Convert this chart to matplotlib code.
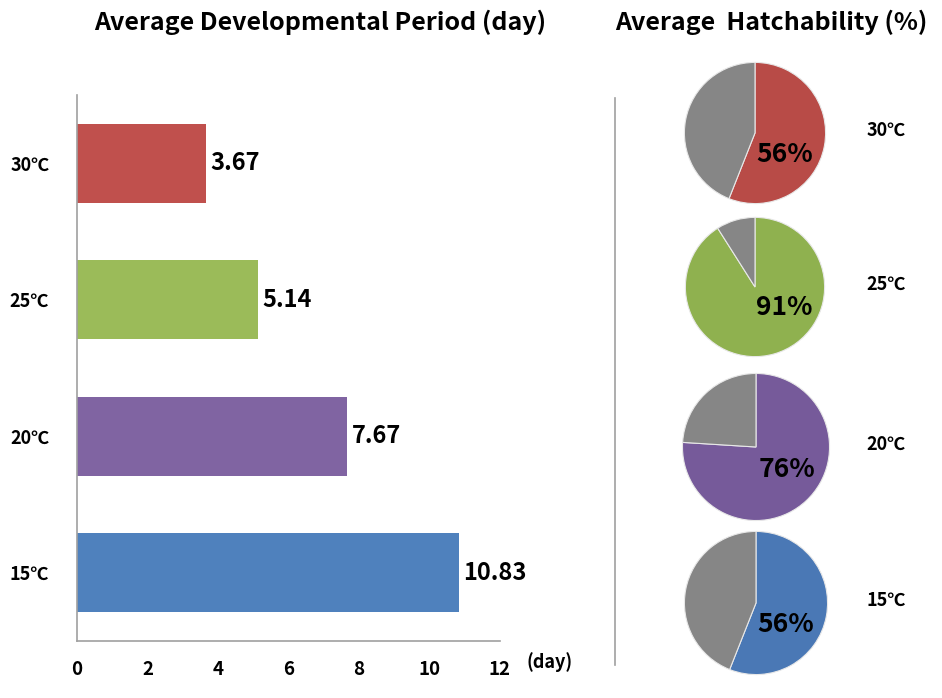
import matplotlib

matplotlib.use("Agg")
import matplotlib.pyplot as plt
from matplotlib.lines import Line2D

plt.rcParams["font.family"] = ["Noto Sans CJK KR", "DejaVu Sans"]
plt.rcParams["font.weight"] = "bold"

# data (bottom to top in the bar chart)
temps = ["15℃", "20℃", "25℃", "30℃"]
dev_days = [10.83, 7.67, 5.14, 3.67]
hatch_pct = [56, 76, 91, 56]
bar_colors = ["#4F81BD", "#8064A2", "#9BBB59", "#C0504D"]
pie_colors = ["#4A78B5", "#765A9A", "#8FB14F", "#B84B47"]
x_ticks = [0, 2, 4, 6, 8, 10, 12]

W, H = 942, 698
fig = plt.figure(figsize=(W / 100, H / 100), dpi=100)


def fx(px):
    return px / W


def fy(py):
    return 1 - py / H


# ---- bar chart ----
ax = fig.add_axes([fx(77), fy(641), fx(500) - fx(77), fy(95) - fy(641)])
ypos = list(range(len(temps)))
ax.barh(ypos, dev_days, height=0.58, color=bar_colors)
ax.set_xlim(0, 12)
ax.set_ylim(-0.5, 3.5)
ax.set_xticks(x_ticks)
ax.set_xticklabels([str(t) for t in x_ticks], fontsize=13.5, fontweight="bold")
ax.set_yticks(ypos)
ax.set_yticklabels(temps, fontsize=13, fontweight="bold")
ax.tick_params(axis="both", length=0)
ax.tick_params(axis="x", pad=14)
ax.tick_params(axis="y", pad=20)
for s in ("top", "right"):
    ax.spines[s].set_visible(False)
for s in ("left", "bottom"):
    ax.spines[s].set_color("#a0a0a0")
    ax.spines[s].set_linewidth(1.2)
for y, v in zip(ypos, dev_days):
    ax.text(v + 0.12, y, f"{v:.2f}", va="center", ha="left", fontsize=17, fontweight="bold")
fig.text(fx(550), fy(662), "(day)", ha="center", va="center", fontsize=13, fontweight="bold")

fig.text(fx(320), fy(22), "Average Developmental Period (day)", ha="center", va="center",
         fontsize=18, fontweight="bold")
fig.text(fx(771), fy(22), "Average  Hatchability (%)", ha="center", va="center",
         fontsize=18, fontweight="bold")

# separator
fig.add_artist(Line2D([fx(615), fx(615)], [fy(98), fy(665)], color="#a0a0a0", lw=1.2))

# ---- pies ----
pie_centers = [(756, 603, 73), (756, 447, 75), (755, 287, 71), (755, 133, 72)]
for (cx, cy, r), pct, col, lab in zip(pie_centers, hatch_pct, pie_colors, temps):
    pax = fig.add_axes([fx(cx - r), fy(cy + r), fx(2 * r), fy(0) - fy(2 * r)])
    pax.pie([pct, 100 - pct], colors=[col, "#868686"], startangle=90, counterclock=False,
            radius=1, wedgeprops=dict(edgecolor="#e8e8e8", linewidth=0.8))
    pax.set_xlim(-1.02, 1.02)
    pax.set_ylim(-1.02, 1.02)
    pax.set_aspect("equal")
    pax.text(0.42, -0.3, f"{pct}%", ha="center", va="center", fontsize=19, fontweight="bold")
    fig.text(fx(886), fy(cy - 3), lab, ha="center", va="center", fontsize=13, fontweight="bold")

fig.savefig("out.png", dpi=100)
